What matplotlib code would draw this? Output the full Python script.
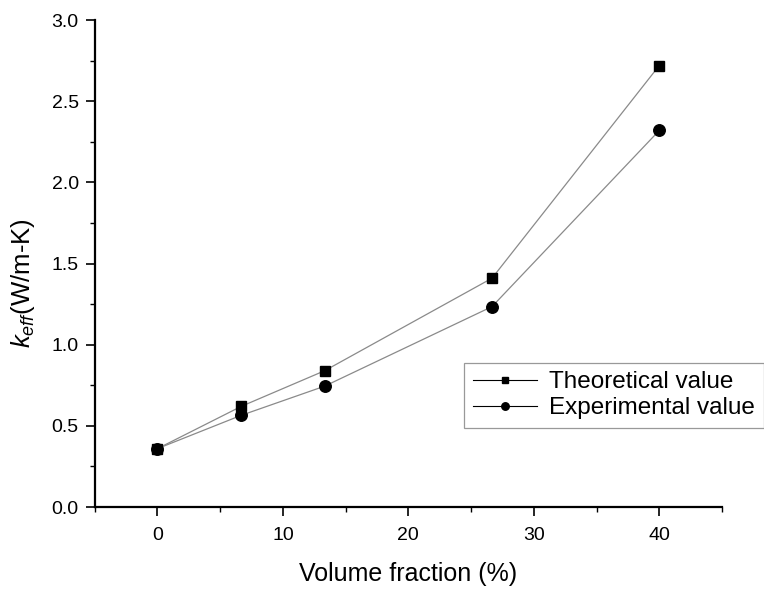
import matplotlib

matplotlib.use("Agg")
import matplotlib.pyplot as plt
from matplotlib.ticker import MultipleLocator

plt.rcParams["font.family"] = ["Liberation Sans", "DejaVu Sans"]
plt.rcParams["mathtext.fontset"] = "custom"
plt.rcParams["mathtext.rm"] = "Liberation Sans"
plt.rcParams["mathtext.it"] = "Liberation Sans:italic"

volume_fraction = [0.0, 6.67, 13.33, 26.67, 40.0]
theoretical = [0.36, 0.62, 0.84, 1.41, 2.72]
experimental = [0.36, 0.565, 0.745, 1.235, 2.32]

fig = plt.figure(figsize=(7.64, 5.91), dpi=100)
ax = fig.add_axes([0.124, 0.142, 0.821, 0.824])

ax.plot(volume_fraction, theoretical, color="#8a8a8a", linewidth=0.9,
        marker="s", markersize=7.3, markerfacecolor="black", markeredgecolor="black",
        label="Theoretical value")
ax.plot(volume_fraction, experimental, color="#8a8a8a", linewidth=0.9,
        marker="o", markersize=8.3, markerfacecolor="black", markeredgecolor="black",
        label="Experimental value")

ax.set_xlim(-5, 45)
ax.set_ylim(0.0, 3.0)
ax.xaxis.set_major_locator(MultipleLocator(10))
ax.xaxis.set_minor_locator(MultipleLocator(5))
ax.yaxis.set_major_locator(MultipleLocator(0.5))
ax.yaxis.set_minor_locator(MultipleLocator(0.25))
ax.yaxis.set_major_formatter(plt.FormatStrFormatter("%.1f"))

for side in ["top", "right"]:
    ax.spines[side].set_visible(False)
for side in ["left", "bottom"]:
    ax.spines[side].set_linewidth(1.6)

ax.tick_params(which="major", direction="out", length=6.5, width=1.2, labelsize=14, pad=5)
ax.tick_params(which="major", axis="x", pad=8)
ax.tick_params(which="minor", direction="out", length=3.5, width=1.0)

ax.set_xlabel("Volume fraction (%)", fontsize=18, labelpad=13)
ax.set_ylabel(r"$k_{eff}$(W/m-K)", fontsize=18.5)
ax.yaxis.set_label_coords(-0.092, 0.46)

leg = ax.legend(loc="upper left", bbox_to_anchor=(0.589, 0.296), fontsize=17.5,
                frameon=True, fancybox=False, edgecolor="#808080", markerscale=0.65,
                handlelength=2.65, borderpad=0.35, labelspacing=0.15, handletextpad=0.5,
                borderaxespad=0.0)
leg.get_frame().set_linewidth(0.9)
for line in leg.get_lines():
    line.set_color("black")
    line.set_linewidth(0.8)

fig.savefig("out.png", dpi=100)
